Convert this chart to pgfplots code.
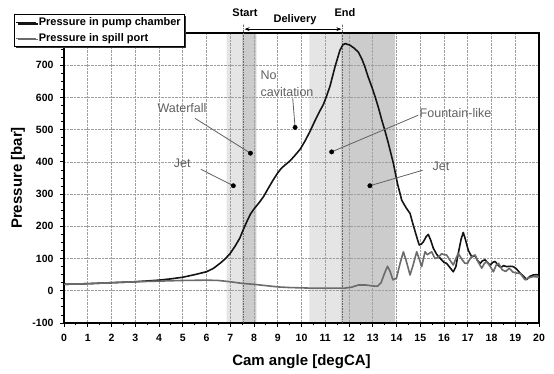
\documentclass[border=0pt]{standalone}
\usepackage{fontspec}
\setmainfont{Liberation Sans}
\usepackage{pgfplots}
\pgfplotsset{compat=1.18}
\usetikzlibrary{shadows,arrows.meta}
\definecolor{bandlight}{gray}{0.90}
\definecolor{banddark}{gray}{0.80}
\definecolor{annogray}{gray}{0.38}
\definecolor{spill}{gray}{0.42}
\begin{document}
\begin{tikzpicture}
\begin{axis}[
  at={(0,0)}, anchor=south west,
  scale only axis, width=475pt, height=290pt,
  xmin=0, xmax=20, ymin=-100, ymax=800,
  xtick={0,1,...,20},
  ytick={-100,0,100,200,300,400,500,600,700,800},
  yticklabels={-100,0,100,200,300,400,500,600,700,{}},
  minor x tick num=1, minor y tick num=3,
  xtick pos=bottom, ytick pos=left,
  tick align=outside,
  major tick length=4pt, minor tick length=2.5pt,
  tick style={black, line width=0.8pt},
  grid=major,
  major grid style={densely dotted, gray!75, line width=0.6pt},
  axis line style={line width=1.6pt},
  clip=false,
  set layers,
  /pgf/number format/assume math mode=true,
  tick label style={font=\bfseries\fontsize{10.5}{12}\selectfont},
  xticklabel style={yshift=-4pt},
  yticklabel style={xshift=-3pt},
  xlabel={Cam angle [degCA]},
  ylabel={Pressure [bar]},
  label style={font=\bfseries\fontsize{15}{17}\selectfont},
  xlabel style={at={(axis description cs:0.5,-0.1345)}, anchor=center},
  ylabel style={at={(axis description cs:-0.0968,0.5)}, anchor=center},
  legend style={at={(axis description cs:-0.1053,1.0655)}, anchor=north west,
    font=\bfseries\fontsize{11}{12}\selectfont, draw=black, line width=0.8pt,
    fill=white, inner xsep=1.5pt, inner ysep=1.5pt, row sep=2pt,
    cells={anchor=west},
    drop shadow={shadow xshift=1.5pt, shadow yshift=-1.5pt, fill=black!80, opacity=1}},
  legend image code/.code={\draw[#1, line width=1pt] (0pt,0pt) -- (20pt,0pt);},
]
% shaded bands
\addplot[fill=bandlight, draw=none, forget plot, on layer=axis background] coordinates {(6.85,-100) (6.85,800) (7.5,800) (7.5,-100) (6.85,-100)};
\addplot[fill=banddark, draw=none, forget plot, on layer=axis background] coordinates {(7.5,-100) (7.5,800) (8.1,800) (8.1,-100) (7.5,-100)};
\addplot[fill=bandlight, draw=none, forget plot, on layer=axis background] coordinates {(10.33,-100) (10.33,800) (11.65,800) (11.65,-100) (10.33,-100)};
\addplot[fill=banddark, draw=none, forget plot, on layer=axis background] coordinates {(11.65,-100) (11.65,800) (13.94,800) (13.94,-100) (11.65,-100)};
% start / end markers
\addplot[densely dotted, black!60, line width=1.6pt, forget plot] coordinates {(7.55,-100) (7.55,828)};
\addplot[densely dotted, black!60, line width=1.6pt, forget plot] coordinates {(11.73,-100) (11.73,828)};
% pump chamber
\addplot[black!92, line width=1.6pt, line join=round] coordinates {
(0,20) (1,22) (2,25) (3,28) (4,33) (4.5,37) (5,42) (5.5,50) (6,59) (6.3,70) (6.6,87) (6.8,100)
(7.0,116) (7.2,138) (7.4,163) (7.55,190) (7.7,215) (7.85,238) (8.0,254) (8.2,272) (8.4,292)
(8.6,318) (8.8,343) (9.0,366) (9.15,380) (9.3,390) (9.5,402) (9.7,418) (9.95,440) (10.15,465)
(10.36,495) (10.55,525) (10.75,555) (10.92,578) (11.05,603) (11.2,635) (11.41,695) (11.62,747)
(11.75,764) (11.85,767) (12.04,762) (12.2,754) (12.39,741) (12.55,718) (12.67,695) (12.8,665)
(12.96,633) (13.1,602) (13.24,568) (13.38,530) (13.52,495) (13.66,457) (13.87,395) (14.04,333)
(14.22,281) (14.4,258) (14.57,240) (14.7,205) (14.8,180) (14.9,155) (14.96,142) (15.05,145)
(15.13,152) (15.25,168) (15.34,175) (15.45,155) (15.55,132) (15.7,112) (15.85,100) (16.0,88)
(16.11,85) (16.25,72) (16.39,59) (16.5,75) (16.6,116) (16.72,160) (16.81,181) (16.9,160)
(17.02,126) (17.17,105) (17.3,110) (17.4,95) (17.52,85) (17.62,93) (17.73,96) (17.85,86)
(17.95,80) (18.05,88) (18.15,91) (18.3,78) (18.4,72) (18.5,78) (18.64,75) (18.8,76) (18.92,75)
(19.05,68) (19.2,55) (19.35,45) (19.48,35) (19.62,45) (19.76,49) (19.9,50) (20,49)
};
\addlegendentry{Pressure in pump chamber}
% spill port
\addplot[spill, line width=1.6pt, line join=round] coordinates {
(0,20) (1,22) (2,25) (3,28) (4,30) (5,32) (6,33) (6.5,32) (7,28) (7.5,23) (8,20) (8.5,16)
(9,12) (9.5,10) (10,9) (10.5,8) (11,8) (11.5,8) (11.8,8) (12.1,11) (12.4,18) (12.7,18)
(13.0,15) (13.2,14) (13.35,25) (13.5,55) (13.62,76) (13.72,62) (13.85,34) (14.0,39) (14.15,85)
(14.29,121) (14.42,90) (14.57,49) (14.7,80) (14.85,121) (14.95,100) (15.06,75) (15.2,121)
(15.3,112) (15.48,121) (15.62,100) (15.75,103) (15.9,115) (16.0,112) (16.11,111) (16.25,95)
(16.39,80) (16.5,100) (16.6,116) (16.75,98) (16.88,85) (17.0,86) (17.1,100) (17.2,108)
(17.31,111) (17.45,88) (17.59,70) (17.7,85) (17.8,90) (17.95,75) (18.08,59) (18.2,80) (18.3,85)
(18.45,65) (18.6,60) (18.75,70) (18.9,58) (19.05,55) (19.2,54) (19.3,45) (19.41,34) (19.55,40)
(19.76,44) (19.9,43) (20,42)
};
\addlegendentry{Pressure in spill port}
% annotation leaders
\addplot[annogray, line width=0.8pt, forget plot] coordinates {(5.52,535) (7.85,427)};
\addplot[annogray, line width=0.8pt, forget plot] coordinates {(5.76,377) (7.13,326)};
\addplot[annogray, line width=0.8pt, forget plot] coordinates {(9.63,597) (9.73,507)};
\addplot[annogray, line width=0.8pt, forget plot] coordinates {(14.92,545) (11.27,431)};
\addplot[annogray, line width=0.8pt, forget plot] coordinates {(15.1,374) (12.88,326)};
\addplot[only marks, mark=*, mark size=2.2pt, black, forget plot] coordinates {(7.85,427) (7.13,326) (9.73,507) (11.27,431) (12.88,326)};
% texts
\node[text=annogray, font=\fontsize{12.5}{15}\selectfont] at (axis cs:4.97,566) {Waterfall};
\node[text=annogray, font=\fontsize{12.5}{15}\selectfont] at (axis cs:4.98,395) {Jet};
\node[text=annogray, font=\fontsize{12.5}{17}\selectfont, align=left, anchor=west, inner sep=0pt] at (axis cs:8.27,641) {No\\cavitation};
\node[text=annogray, font=\fontsize{12.5}{15}\selectfont, anchor=west, inner sep=0pt] at (axis cs:14.97,552) {Fountain-like};
\node[text=annogray, font=\fontsize{12.5}{15}\selectfont] at (axis cs:15.87,387) {Jet};
\node[font=\bfseries\fontsize{11}{13}\selectfont] at (axis cs:7.62,862) {Start};
\node[font=\bfseries\fontsize{11}{13}\selectfont] at (axis cs:9.73,841) {Delivery};
\node[font=\bfseries\fontsize{11}{13}\selectfont] at (axis cs:11.83,862) {End};
\draw[{Stealth[length=5pt]}-{Stealth[length=5pt]}, line width=0.8pt] (axis cs:7.6,812) -- (axis cs:11.68,812);
\end{axis}
\path (-64pt,-51pt) rectangle (490pt,323pt);
\end{tikzpicture}
\end{document}
